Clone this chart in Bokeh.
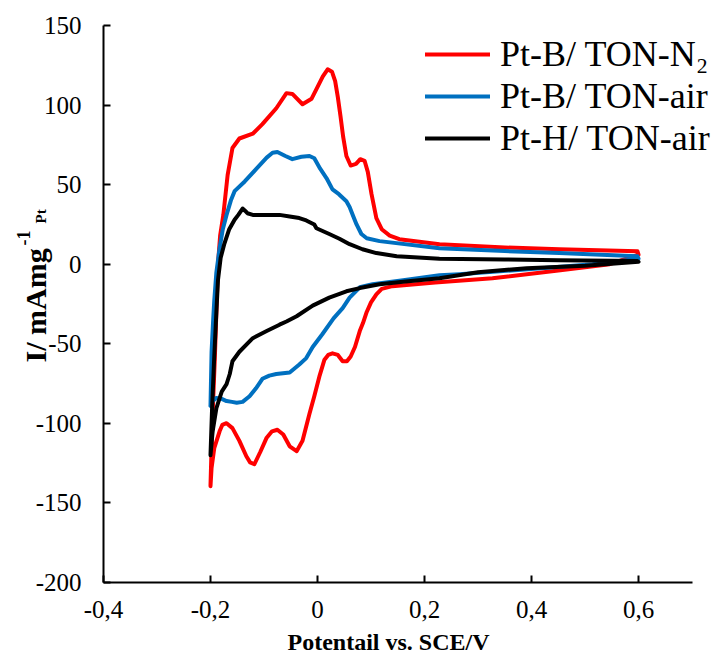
from bokeh.plotting import figure
from bokeh.models import Label, Legend, LegendItem, FixedTicker, CustomJSTickFormatter, Range1d
from bokeh.embed import file_html
from bokeh.resources import INLINE

# ---------------- data ----------------
x_ticks = [-0.4, -0.2, 0.0, 0.2, 0.4, 0.6]
y_ticks = [-200, -150, -100, -50, 0, 50, 100, 150]

series_names = ["Pt-B/ TON-N\u2082", "Pt-B/ TON-air", "Pt-H/ TON-air"]
series_colors = ["#FF0000", "#0070C0", "#000000"]

# Pt-B/ TON-N2 (red): anodic branch then cathodic branch
red_x = [-0.200, -0.198, -0.195, -0.192, -0.189, -0.186, -0.182, -0.176, -0.168, -0.159,
         -0.146, -0.121, -0.103, -0.077, -0.058, -0.047, -0.028, -0.011, -0.002, 0.010,
         0.019, 0.027, 0.033, 0.038, 0.043, 0.048, 0.054, 0.062, 0.072, 0.080,
         0.088, 0.094, 0.101, 0.110, 0.120, 0.135, 0.153, 0.228, 0.350, 0.452, 0.598,
         0.600, 0.546, 0.450, 0.327, 0.220, 0.140, 0.120, 0.110, 0.100, 0.092,
         0.085, 0.079, 0.070, 0.062, 0.055, 0.047, 0.038, 0.028, 0.020, 0.013,
         0.004, -0.006, -0.015, -0.028, -0.039, -0.052, -0.064, -0.075, -0.085, -0.095,
         -0.107, -0.118, -0.126, -0.133, -0.146, -0.159, -0.170, -0.178, -0.183, -0.193,
         -0.198, -0.200]
red_y = [-139, -115, -85, -60, -30, 0, 18, 31, 56, 73,
         79, 82, 88, 98, 107.5, 107, 100.5, 104, 110, 118,
         122.5, 121, 115, 105, 93, 80, 68, 62, 63, 66,
         65, 58, 44, 29, 22, 18, 15.7, 12.6, 10.5, 9.4, 8.2,
         6, 0, -4, -8.8, -11.5, -13.8, -15.5, -18.9, -24, -30,
         -37, -42, -52, -58, -61, -61, -57, -56, -57, -60,
         -70, -83, -94, -111, -117.5, -114.4, -107, -104, -105, -109,
         -118, -125.7, -124.5, -120.7, -111, -103, -99.9, -101, -105, -115.6,
         -128, -139.5]

# Pt-B/ TON-air (blue)
blue_x = [-0.200, -0.198, -0.195, -0.193, -0.189, -0.183, -0.177, -0.170, -0.162, -0.155,
          -0.136, -0.114, -0.095, -0.084, -0.075, -0.060, -0.047, -0.030, -0.015, -0.006,
          0.005, 0.017, 0.028, 0.040, 0.054, 0.060, 0.067, 0.073, 0.082, 0.092,
          0.116, 0.228, 0.350, 0.452, 0.598,
          0.600, 0.514, 0.400, 0.265, 0.228, 0.160, 0.103, 0.079, 0.060, 0.047,
          0.030, 0.009, -0.009, -0.021, -0.034, -0.052, -0.077, -0.090, -0.103, -0.115,
          -0.127, -0.140, -0.151, -0.160, -0.170, -0.180, -0.189, -0.196, -0.200]
blue_y = [-89, -55, -35, -23, -5, 10, 22, 31, 40, 45.9,
          52, 60, 67, 70, 70.5, 68, 66, 67.5, 68, 66.6,
          60, 54, 47, 44, 39.6, 36, 30, 25, 19, 16.3,
          14.5, 10, 8.3, 7, 5,
          3.5, 0, -3, -6.3, -7, -10, -12.6, -14.5, -21, -27.6,
          -34, -44, -52, -59, -63, -68, -69, -70, -72, -78,
          -83, -86.5, -87, -86.5, -86, -84.5, -84, -86, -89]

# Pt-H/ TON-air (black)
black_x = [-0.200, -0.197, -0.193, -0.189, -0.186, -0.181, -0.174, -0.165, -0.155, -0.148,
           -0.140, -0.135, -0.131, -0.121, -0.100, -0.084, -0.071, -0.052, -0.034, -0.021,
           -0.006, -0.002, 0.022, 0.041, 0.060, 0.084, 0.110, 0.148, 0.228, 0.350,
           0.450, 0.598,
           0.600, 0.500, 0.391, 0.300, 0.228, 0.160, 0.116, 0.079, 0.054, 0.022,
           -0.009, -0.039, -0.058, -0.071, -0.095, -0.121, -0.146, -0.159, -0.164, -0.170,
           -0.179, -0.189, -0.196, -0.200]
black_y = [-120, -90, -58, -30, -10, 4, 13, 22, 28, 31,
           35, 33.5, 32, 31, 31, 31, 31, 30, 29, 27.5,
           25, 22.6, 19, 16, 12.6, 9.4, 7, 5, 3.5, 3,
           2.5, 2,
           1.5, -1, -2.5, -5, -8.8, -11, -12.6, -15, -17, -21,
           -26, -32.7, -36, -38, -42, -46.5, -55, -61, -69, -75.4,
           -80, -90.5, -105, -120]

x_axis_span = (-0.4, 0.7)
y_axis_span = (-200, 150)

SERIF = "'Liberation Serif', 'Times New Roman', serif"

# ---------------- figure ----------------
# The frame fills the whole canvas; axes are pinned at x=-0.4 and y=-200.
W, H = 720, 655
left_px, right_px, top_px, bottom_px = 103, 691.5, 25, 582
xpp = (right_px - left_px) / (x_axis_span[1] - x_axis_span[0])
ypp = (bottom_px - top_px) / (y_axis_span[1] - y_axis_span[0])
x_range = Range1d(x_axis_span[0] - left_px / xpp, x_axis_span[1] + (W - right_px) / xpp)
y_range = Range1d(y_axis_span[0] - (H - bottom_px) / ypp, y_axis_span[1] + top_px / ypp)

p = figure(width=W, height=H, x_range=x_range, y_range=y_range,
           output_backend="svg", toolbar_location=None,
           min_border=0, min_border_left=0, min_border_right=0,
           min_border_top=0, min_border_bottom=0)
p.outline_line_color = None
p.xgrid.visible = False
p.ygrid.visible = False
p.background_fill_color = "white"
p.border_fill_color = "white"

renderers = []
for xs, ys, c in zip([red_x, blue_x, black_x], [red_y, blue_y, black_y], series_colors):
    r = p.line(xs, ys, line_color=c, line_width=4, line_join="round", line_cap="round")
    renderers.append(r)

for ax in (p.xaxis[0], p.yaxis[0]):
    ax.axis_line_width = 2
    ax.axis_line_color = "black"
    ax.major_tick_line_width = 2
    ax.major_tick_line_color = "black"
    ax.major_tick_in = 7
    ax.major_tick_out = 0
    ax.minor_tick_in = 0
    ax.minor_tick_out = 0
    ax.major_label_text_font = SERIF
    ax.major_label_text_font_size = "25px"
    ax.major_label_text_color = "black"

p.xaxis[0].fixed_location = y_axis_span[0]
p.yaxis[0].fixed_location = x_axis_span[0]
p.xaxis[0].bounds = x_axis_span
p.yaxis[0].bounds = y_axis_span
p.xaxis[0].ticker = FixedTicker(ticks=x_ticks)
p.yaxis[0].ticker = FixedTicker(ticks=y_ticks)
p.xaxis[0].formatter = CustomJSTickFormatter(
    code="if (Math.abs(tick) < 1e-9) { return '0'; } return tick.toFixed(1).replace('.', ',');")
p.yaxis[0].formatter = CustomJSTickFormatter(code="return Math.round(tick).toString();")
p.xaxis[0].major_label_standoff = 18
p.yaxis[0].major_label_standoff = 22

# Axis titles (screen units, origin at bottom-left of the canvas)
p.add_layout(Label(x=388, y=1, x_units="screen", y_units="screen",
                   text="Potentail vs. SCE/V", text_font=SERIF,
                   text_font_style="bold", text_font_size="24px", text_align="center",
                   text_baseline="bottom", text_color="black"))
p.add_layout(Label(x=35, y=293, x_units="screen", y_units="screen", angle=1.5707963,
                   text="I/ mAmg", text_font=SERIF, text_font_style="bold",
                   text_font_size="30px", text_align="left", text_baseline="alphabetic",
                   text_color="black"))
p.add_layout(Label(x=23, y=410, x_units="screen", y_units="screen", angle=1.5707963,
                   text="-1", text_font=SERIF, text_font_style="bold",
                   text_font_size="18px", text_align="left", text_baseline="alphabetic",
                   text_color="black"))
p.add_layout(Label(x=40, y=432, x_units="screen", y_units="screen", angle=1.5707963,
                   text="Pt", text_font=SERIF, text_font_style="bold",
                   text_font_size="15px", text_align="left", text_baseline="alphabetic",
                   text_color="black"))

legend = Legend(items=[LegendItem(label=n, renderers=[r]) for n, r in zip(series_names, renderers)],
                location=(425, 496), orientation="vertical",
                label_text_font=SERIF, label_text_font_size="36px",
                label_text_color="black", glyph_width=65, glyph_height=40,
                label_height=40, label_standoff=10, spacing=0, padding=0, margin=0,
                border_line_alpha=0, background_fill_alpha=0)
p.add_layout(legend)

open("out.html", "w").write(file_html(p, INLINE))
